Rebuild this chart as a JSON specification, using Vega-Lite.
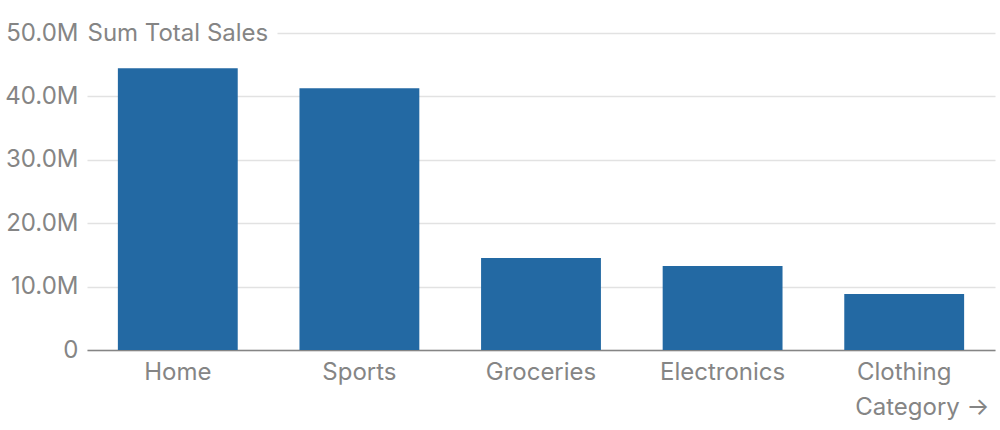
{
  "$schema": "https://vega.github.io/schema/vega-lite/v6.json",
  "autosize": {"type": "none"},
  "width": 908,
  "height": 317,
  "padding": {"left": 87, "top": 33, "right": 5, "bottom": 80},
  "background": "white",
  "config": {
    "font": "Inter",
    "view": {"stroke": null}
  },
  "data": {
    "values": [
      {"Category": "Home", "Sales": 44450000},
      {"Category": "Sports", "Sales": 41300000},
      {"Category": "Groceries", "Sales": 14500000},
      {"Category": "Electronics", "Sales": 13250000},
      {"Category": "Clothing", "Sales": 8830000}
    ]
  },
  "mark": {"type": "bar", "color": "#2369a3"},
  "encoding": {
    "x": {
      "field": "Category",
      "type": "nominal",
      "sort": null,
      "scale": {"paddingInner": 0.34, "paddingOuter": 0.17},
      "axis": {
        "labelAngle": 0,
        "labelFont": "Inter",
        "labelFontSize": 24,
        "labelColor": "#858585",
        "labelPadding": 10,
        "ticks": false,
        "domainColor": "#858585",
        "domainWidth": 1.5,
        "title": "Category →",
        "titleFont": "Inter",
        "titleFontSize": 24,
        "titleFontWeight": "normal",
        "titleColor": "#858585",
        "titleAnchor": "end",
        "titleAlign": "right",
        "titleX": 902,
        "titleY": 57,
        "titleBaseline": "middle"
      }
    },
    "y": {
      "field": "Sales",
      "type": "quantitative",
      "scale": {"domain": [0, 50000000], "nice": false},
      "axis": {
        "values": [0, 10000000, 20000000, 30000000, 40000000, 50000000],
        "labelExpr": "datum.value == 0 ? '0' : format(datum.value / 1000000, '.1f') + 'M'",
        "labelFont": "Inter",
        "labelFontSize": 24,
        "labelColor": "#858585",
        "labelPadding": 9,
        "ticks": false,
        "domain": false,
        "grid": true,
        "gridColor": "#e2e2e2",
        "gridWidth": 1.5,
        "gridDash": {"condition": {"test": "datum.value == 50000000", "value": [0, 190, 1000, 0]}, "value": []},
        "title": "Sum Total Sales",
        "titleFont": "Inter",
        "titleFontSize": 24,
        "titleFontWeight": "normal",
        "titleColor": "#858585",
        "titleAngle": 0,
        "titleAlign": "left",
        "titleBaseline": "middle",
        "titleX": 0,
        "titleY": 0
      }
    }
  }
}
